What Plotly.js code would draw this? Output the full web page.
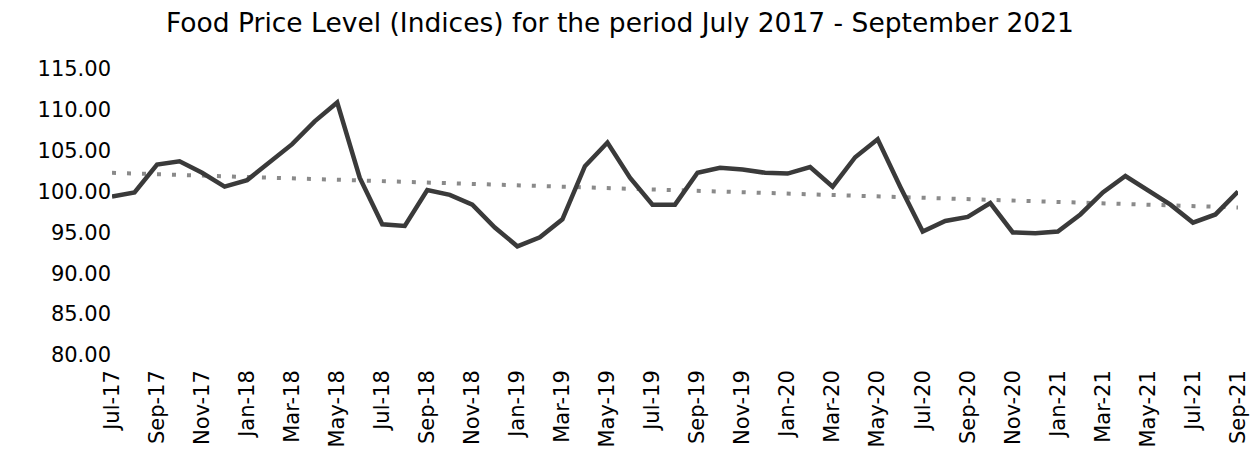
<!DOCTYPE html>
<html>
<head>
<meta charset="utf-8">
<script src="https://cdn.plot.ly/plotly-3.0.1.min.js"></script>
<style>html,body{margin:0;padding:0;background:#fff;}#chart{width:1250px;height:461px;}</style>
</head>
<body>
<div id="chart"></div>
<script>
const months = ["Jul-17","Aug-17","Sep-17","Oct-17","Nov-17","Dec-17","Jan-18","Feb-18","Mar-18","Apr-18","May-18","Jun-18",
"Jul-18","Aug-18","Sep-18","Oct-18","Nov-18","Dec-18","Jan-19","Feb-19","Mar-19","Apr-19","May-19","Jun-19",
"Jul-19","Aug-19","Sep-19","Oct-19","Nov-19","Dec-19","Jan-20","Feb-20","Mar-20","Apr-20","May-20","Jun-20",
"Jul-20","Aug-20","Sep-20","Oct-20","Nov-20","Dec-20","Jan-21","Feb-21","Mar-21","Apr-21","May-21","Jun-21",
"Jul-21","Aug-21","Sep-21"];
const foodPriceIndex = [99.4, 99.9, 103.3, 103.7, 102.3, 100.6, 101.4, 103.6, 105.8, 108.6, 110.9, 101.7,
96.0, 95.8, 100.2, 99.6, 98.4, 95.6, 93.3, 94.4, 96.6, 103.1, 106.0, 101.7,
98.4, 98.4, 102.3, 102.9, 102.7, 102.3, 102.2, 103.0, 100.6, 104.2, 106.4, 100.6,
95.1, 96.4, 96.9, 98.6, 95.0, 94.9, 95.1, 97.2, 99.9, 101.9, 100.2, 98.4,
96.2, 97.2, 100.0];
const tickLabels = ["Jul-17","Sep-17","Nov-17","Jan-18","Mar-18","May-18","Jul-18","Sep-18","Nov-18","Jan-19","Mar-19","May-19",
"Jul-19","Sep-19","Nov-19","Jan-20","Mar-20","May-20","Jul-20","Sep-20","Nov-20","Jan-21","Mar-21","May-21","Jul-21","Sep-21"];
const chartTitle = "Food Price Level (Indices) for the period July 2017 - September 2021";

// linear trendline (least squares) over the series
const n = foodPriceIndex.length;
let sx=0, sy=0, sxx=0, sxy=0;
foodPriceIndex.forEach((v,i)=>{sx+=i; sy+=v; sxx+=i*i; sxy+=i*v;});
const slope = (n*sxy - sx*sy)/(n*sxx - sx*sx);
const intercept = (sy - slope*sx)/n;
const trend = foodPriceIndex.map((v,i)=>intercept + slope*i);

const font = "DejaVu Sans, sans-serif";
const data = [
  {x: months, y: trend, type: 'scatter', mode: 'lines',
   line: {color: '#8a8a8a', width: 4, dash: '4px,11px'}, hoverinfo: 'skip'},
  {x: months, y: foodPriceIndex, type: 'scatter', mode: 'lines',
   line: {color: '#3a3a3a', width: 4.5}}
];
const layout = {
  width: 1250, height: 461,
  margin: {l: 112, r: 12, t: 69, b: 106},
  paper_bgcolor: '#fff', plot_bgcolor: '#fff',
  showlegend: false,
  title: {text: chartTitle, x: 0.496, xanchor: 'center', y: 0.95, yanchor: 'middle',
          font: {family: font, size: 26.5, color: '#000'}},
  xaxis: {type: 'category', range: [0, n-1], showgrid: false, zeroline: false, showline: false,
          ticks: '', tickmode: 'array', tickvals: tickLabels, ticktext: tickLabels,
          tickangle: -90, ticklabelstandoff: 10,
          tickfont: {family: font, size: 21, color: '#000'}},
  yaxis: {range: [80, 115], dtick: 5, tick0: 80, tickformat: '.2f', showgrid: false,
          zeroline: false, showline: false, ticks: '', ticklabelstandoff: 0,
          tickfont: {family: font, size: 21, color: '#000'}}
};
Plotly.newPlot('chart', data, layout, {displayModeBar: false, staticPlot: true});
</script>
</body>
</html>
